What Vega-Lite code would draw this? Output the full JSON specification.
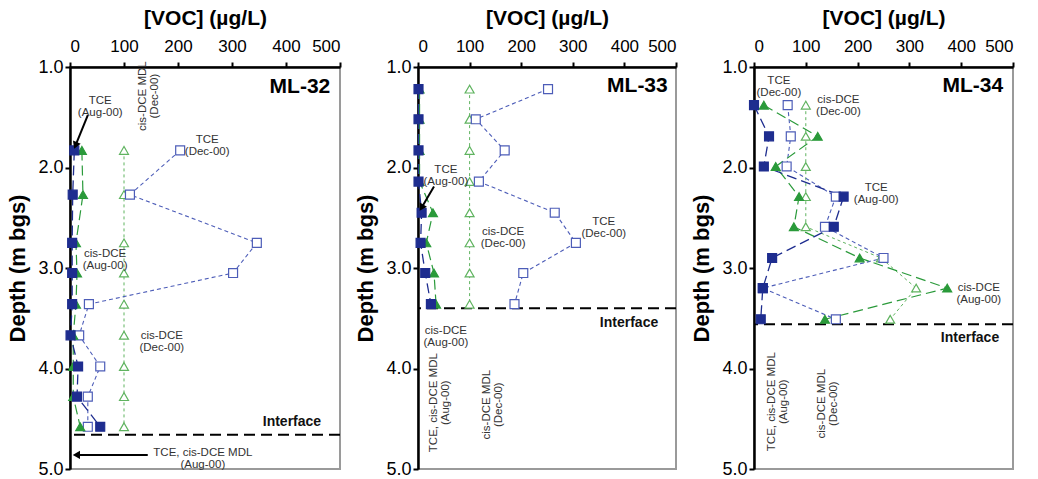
{
  "$schema": "https://vega.github.io/schema/vega-lite/v6.json",
  "background": "white",
  "padding": {"left": 5, "top": 6, "right": 5, "bottom": 0},
  "bounds": "flush",
  "spacing": 78,
  "datasets": {
    "profiles": [
      {"well":"ML-32","series":"cis-DCE (Dec-00)","depth":1.83,"voc":100},
      {"well":"ML-32","series":"cis-DCE (Dec-00)","depth":2.27,"voc":100},
      {"well":"ML-32","series":"cis-DCE (Dec-00)","depth":2.75,"voc":100},
      {"well":"ML-32","series":"cis-DCE (Dec-00)","depth":3.05,"voc":100},
      {"well":"ML-32","series":"cis-DCE (Dec-00)","depth":3.36,"voc":100},
      {"well":"ML-32","series":"cis-DCE (Dec-00)","depth":3.67,"voc":100},
      {"well":"ML-32","series":"cis-DCE (Dec-00)","depth":3.98,"voc":100},
      {"well":"ML-32","series":"cis-DCE (Dec-00)","depth":4.28,"voc":100},
      {"well":"ML-32","series":"cis-DCE (Dec-00)","depth":4.58,"voc":100},
      {"well":"ML-32","series":"TCE (Dec-00)","depth":1.83,"voc":204},
      {"well":"ML-32","series":"TCE (Dec-00)","depth":2.27,"voc":111},
      {"well":"ML-32","series":"TCE (Dec-00)","depth":2.75,"voc":346},
      {"well":"ML-32","series":"TCE (Dec-00)","depth":3.05,"voc":302},
      {"well":"ML-32","series":"TCE (Dec-00)","depth":3.36,"voc":35},
      {"well":"ML-32","series":"TCE (Dec-00)","depth":3.67,"voc":17},
      {"well":"ML-32","series":"TCE (Dec-00)","depth":3.98,"voc":56},
      {"well":"ML-32","series":"TCE (Dec-00)","depth":4.28,"voc":33},
      {"well":"ML-32","series":"TCE (Dec-00)","depth":4.58,"voc":33},
      {"well":"ML-32","series":"cis-DCE (Aug-00)","depth":1.83,"voc":22},
      {"well":"ML-32","series":"cis-DCE (Aug-00)","depth":2.27,"voc":24},
      {"well":"ML-32","series":"cis-DCE (Aug-00)","depth":2.75,"voc":11},
      {"well":"ML-32","series":"cis-DCE (Aug-00)","depth":3.05,"voc":13},
      {"well":"ML-32","series":"cis-DCE (Aug-00)","depth":3.36,"voc":11},
      {"well":"ML-32","series":"cis-DCE (Aug-00)","depth":3.67,"voc":6},
      {"well":"ML-32","series":"cis-DCE (Aug-00)","depth":3.98,"voc":6},
      {"well":"ML-32","series":"cis-DCE (Aug-00)","depth":4.28,"voc":6},
      {"well":"ML-32","series":"cis-DCE (Aug-00)","depth":4.58,"voc":19},
      {"well":"ML-32","series":"TCE (Aug-00)","depth":1.83,"voc":8},
      {"well":"ML-32","series":"TCE (Aug-00)","depth":2.27,"voc":5},
      {"well":"ML-32","series":"TCE (Aug-00)","depth":2.75,"voc":4},
      {"well":"ML-32","series":"TCE (Aug-00)","depth":3.05,"voc":4},
      {"well":"ML-32","series":"TCE (Aug-00)","depth":3.36,"voc":4},
      {"well":"ML-32","series":"TCE (Aug-00)","depth":3.67,"voc":1},
      {"well":"ML-32","series":"TCE (Aug-00)","depth":3.98,"voc":15},
      {"well":"ML-32","series":"TCE (Aug-00)","depth":4.28,"voc":13},
      {"well":"ML-32","series":"TCE (Aug-00)","depth":4.58,"voc":56},

      {"well":"ML-33","series":"cis-DCE (Dec-00)","depth":1.22,"voc":100},
      {"well":"ML-33","series":"cis-DCE (Dec-00)","depth":1.52,"voc":100},
      {"well":"ML-33","series":"cis-DCE (Dec-00)","depth":1.83,"voc":100},
      {"well":"ML-33","series":"cis-DCE (Dec-00)","depth":2.14,"voc":100},
      {"well":"ML-33","series":"cis-DCE (Dec-00)","depth":2.45,"voc":100},
      {"well":"ML-33","series":"cis-DCE (Dec-00)","depth":2.75,"voc":100},
      {"well":"ML-33","series":"cis-DCE (Dec-00)","depth":3.05,"voc":100},
      {"well":"ML-33","series":"cis-DCE (Dec-00)","depth":3.36,"voc":100},
      {"well":"ML-33","series":"TCE (Dec-00)","depth":1.22,"voc":252},
      {"well":"ML-33","series":"TCE (Dec-00)","depth":1.52,"voc":112},
      {"well":"ML-33","series":"TCE (Dec-00)","depth":1.83,"voc":168},
      {"well":"ML-33","series":"TCE (Dec-00)","depth":2.14,"voc":118},
      {"well":"ML-33","series":"TCE (Dec-00)","depth":2.45,"voc":265},
      {"well":"ML-33","series":"TCE (Dec-00)","depth":2.75,"voc":306},
      {"well":"ML-33","series":"TCE (Dec-00)","depth":3.05,"voc":204},
      {"well":"ML-33","series":"TCE (Dec-00)","depth":3.36,"voc":187},
      {"well":"ML-33","series":"cis-DCE (Aug-00)","depth":1.22,"voc":3},
      {"well":"ML-33","series":"cis-DCE (Aug-00)","depth":1.52,"voc":3},
      {"well":"ML-33","series":"cis-DCE (Aug-00)","depth":1.83,"voc":3},
      {"well":"ML-33","series":"cis-DCE (Aug-00)","depth":2.14,"voc":3},
      {"well":"ML-33","series":"cis-DCE (Aug-00)","depth":2.45,"voc":29},
      {"well":"ML-33","series":"cis-DCE (Aug-00)","depth":2.75,"voc":16},
      {"well":"ML-33","series":"cis-DCE (Aug-00)","depth":3.05,"voc":31},
      {"well":"ML-33","series":"cis-DCE (Aug-00)","depth":3.36,"voc":35},
      {"well":"ML-33","series":"TCE (Aug-00)","depth":1.22,"voc":1},
      {"well":"ML-33","series":"TCE (Aug-00)","depth":1.52,"voc":1},
      {"well":"ML-33","series":"TCE (Aug-00)","depth":1.83,"voc":1},
      {"well":"ML-33","series":"TCE (Aug-00)","depth":2.14,"voc":1},
      {"well":"ML-33","series":"TCE (Aug-00)","depth":2.45,"voc":7},
      {"well":"ML-33","series":"TCE (Aug-00)","depth":2.75,"voc":5},
      {"well":"ML-33","series":"TCE (Aug-00)","depth":3.05,"voc":14},
      {"well":"ML-33","series":"TCE (Aug-00)","depth":3.36,"voc":25},

      {"well":"ML-34","series":"cis-DCE (Dec-00)","depth":1.38,"voc":100},
      {"well":"ML-34","series":"cis-DCE (Dec-00)","depth":1.69,"voc":100},
      {"well":"ML-34","series":"cis-DCE (Dec-00)","depth":1.99,"voc":100},
      {"well":"ML-34","series":"cis-DCE (Dec-00)","depth":2.29,"voc":100},
      {"well":"ML-34","series":"cis-DCE (Dec-00)","depth":2.59,"voc":100},
      {"well":"ML-34","series":"cis-DCE (Dec-00)","depth":2.90,"voc":245},
      {"well":"ML-34","series":"cis-DCE (Dec-00)","depth":3.20,"voc":313},
      {"well":"ML-34","series":"cis-DCE (Dec-00)","depth":3.51,"voc":263},
      {"well":"ML-34","series":"TCE (Dec-00)","depth":1.38,"voc":65},
      {"well":"ML-34","series":"TCE (Dec-00)","depth":1.69,"voc":71},
      {"well":"ML-34","series":"TCE (Dec-00)","depth":1.99,"voc":63},
      {"well":"ML-34","series":"TCE (Dec-00)","depth":2.29,"voc":158},
      {"well":"ML-34","series":"TCE (Dec-00)","depth":2.59,"voc":137},
      {"well":"ML-34","series":"TCE (Dec-00)","depth":2.90,"voc":250},
      {"well":"ML-34","series":"TCE (Dec-00)","depth":3.20,"voc":17},
      {"well":"ML-34","series":"TCE (Dec-00)","depth":3.51,"voc":158},
      {"well":"ML-34","series":"cis-DCE (Aug-00)","depth":1.38,"voc":19},
      {"well":"ML-34","series":"cis-DCE (Aug-00)","depth":1.69,"voc":123},
      {"well":"ML-34","series":"cis-DCE (Aug-00)","depth":1.99,"voc":42},
      {"well":"ML-34","series":"cis-DCE (Aug-00)","depth":2.29,"voc":87},
      {"well":"ML-34","series":"cis-DCE (Aug-00)","depth":2.59,"voc":77},
      {"well":"ML-34","series":"cis-DCE (Aug-00)","depth":2.90,"voc":204},
      {"well":"ML-34","series":"cis-DCE (Aug-00)","depth":3.20,"voc":373},
      {"well":"ML-34","series":"cis-DCE (Aug-00)","depth":3.51,"voc":137},
      {"well":"ML-34","series":"TCE (Aug-00)","depth":1.38,"voc":0},
      {"well":"ML-34","series":"TCE (Aug-00)","depth":1.69,"voc":29},
      {"well":"ML-34","series":"TCE (Aug-00)","depth":1.99,"voc":19},
      {"well":"ML-34","series":"TCE (Aug-00)","depth":2.29,"voc":173},
      {"well":"ML-34","series":"TCE (Aug-00)","depth":2.59,"voc":154},
      {"well":"ML-34","series":"TCE (Aug-00)","depth":2.90,"voc":35},
      {"well":"ML-34","series":"TCE (Aug-00)","depth":3.20,"voc":17},
      {"well":"ML-34","series":"TCE (Aug-00)","depth":3.51,"voc":13}
    ],
    "wells": [
      {"well":"ML-32","depth":4.66},
      {"well":"ML-33","depth":3.40},
      {"well":"ML-34","depth":3.56}
    ],
    "notes": [
      {"well":"ML-32","kind":"head","label":"ML-32","voc":482,"depth":1.2},
      {"well":"ML-32","kind":"note","label":"TCE\n(Aug-00)","voc":56,"depth":1.34},
      {"well":"ML-32","kind":"note","label":"TCE\n(Dec-00)","voc":254,"depth":1.73},
      {"well":"ML-32","kind":"note","label":"cis-DCE\n(Aug-00)","voc":65,"depth":2.86},
      {"well":"ML-32","kind":"note","label":"cis-DCE\n(Dec-00)","voc":170,"depth":3.68},
      {"well":"ML-32","kind":"note","label":"TCE, cis-DCE MDL\n(Aug-00)","voc":246,"depth":4.84},
      {"well":"ML-32","kind":"iface","label":"Interface","voc":411,"depth":4.53},
      {"well":"ML-32","kind":"vnote","label":"cis-DCE MDL\n(Dec-00)","voc":135,"depth":1.29},

      {"well":"ML-33","kind":"head","label":"ML-33","voc":484,"depth":1.19},
      {"well":"ML-33","kind":"note","label":"TCE\n(Aug-00)","voc":54,"depth":2.02},
      {"well":"ML-33","kind":"note","label":"cis-DCE\n(Dec-00)","voc":165,"depth":2.64},
      {"well":"ML-33","kind":"note","label":"TCE\n(Dec-00)","voc":360,"depth":2.54},
      {"well":"ML-33","kind":"note","label":"cis-DCE\n(Aug-00)","voc":54,"depth":3.63},
      {"well":"ML-33","kind":"iface","label":"Interface","voc":409,"depth":3.55},
      {"well":"ML-33","kind":"vnote","label":"TCE, cis-DCE MDL\n(Aug-00)","voc":31,"depth":4.34},
      {"well":"ML-33","kind":"vnote","label":"cis-DCE MDL\n(Dec-00)","voc":134,"depth":4.36},

      {"well":"ML-34","kind":"head","label":"ML-34","voc":481,"depth":1.19},
      {"well":"ML-34","kind":"note","label":"TCE\n(Dec-00)","voc":48,"depth":1.14},
      {"well":"ML-34","kind":"note","label":"cis-DCE\n(Dec-00)","voc":163,"depth":1.33},
      {"well":"ML-34","kind":"note","label":"TCE\n(Aug-00)","voc":236,"depth":2.20},
      {"well":"ML-34","kind":"note","label":"cis-DCE\n(Aug-00)","voc":434,"depth":3.20},
      {"well":"ML-34","kind":"iface","label":"Interface","voc":417,"depth":3.70},
      {"well":"ML-34","kind":"vnote","label":"TCE, cis-DCE MDL\n(Aug-00)","voc":35,"depth":4.33},
      {"well":"ML-34","kind":"vnote","label":"cis-DCE MDL\n(Dec-00)","voc":132,"depth":4.35}
    ],
    "arrows": [
      {"well":"ML-32","target":"TCE (Aug-00)","voc":33,"depth":1.48,"voc2":11,"depth2":1.77},
      {"well":"ML-32","target":"MDL (Aug-00)","voc":144,"depth":4.86,"voc2":14,"depth2":4.86},
      {"well":"ML-33","target":"TCE (Aug-00)","voc":31,"depth":2.19,"voc2":8,"depth2":2.39}
    ]
  },
  "hconcat": [
    {
      "width": 270, "height": 402,
      "layer": [
        {"mark":{"type":"rule","color":"#000","strokeDash":[1.5,2.5],"strokeWidth":1.3},
         "encoding":{"x":{"datum":100,"type":"quantitative","scale":{"domain":[0,500],"nice":false},"axis":{"orient":"top","values":[0,100,200,300,400,500],"title":"[VOC] (µg/L)"}}}},
        {"data":{"name":"wells"},"transform":[{"filter":"datum.well==='ML-32'"}],
         "mark":{"type":"rule","color":"#000","strokeDash":[11,6],"strokeWidth":2},
         "encoding":{"y":{"field":"depth","type":"quantitative","scale":{"domain":[1,5],"reverse":true,"nice":false,"zero":false},"axis":{"values":[1,2,3,4,5],"format":".1f","title":"Depth (m bgs)"}}}},
        {"data":{"name":"profiles"},"transform":[{"filter":"datum.well==='ML-32'"}],
         "mark":{"type":"line"},
         "encoding":{
           "x":{"field":"voc","type":"quantitative","scale":{"domain":[0,500],"nice":false},"axis":{"orient":"top","values":[0,100,200,300,400,500],"title":"[VOC] (µg/L)"}},
           "y":{"field":"depth","type":"quantitative","scale":{"domain":[1,5],"reverse":true,"nice":false,"zero":false},"axis":{"values":[1,2,3,4,5],"format":".1f","title":"Depth (m bgs)"}},
           "order":{"field":"depth","type":"quantitative"},
           "color":{"field":"series","type":"nominal","scale":{"domain":["cis-DCE (Dec-00)","TCE (Dec-00)","cis-DCE (Aug-00)","TCE (Aug-00)"],"range":["#5fb35f","#4d5db8","#2a9a3a","#1e2d8f"]},"legend":null},
           "strokeDash":{"field":"series","type":"nominal","scale":{"domain":["cis-DCE (Dec-00)","TCE (Dec-00)","cis-DCE (Aug-00)","TCE (Aug-00)"],"range":[[3,3],[4,3],[10,5],[10,5]]},"legend":null},
           "strokeWidth":{"field":"series","type":"nominal","scale":{"domain":["cis-DCE (Dec-00)","TCE (Dec-00)","cis-DCE (Aug-00)","TCE (Aug-00)"],"range":[1,1.3,2.5,2.5]},"legend":null}
         }},
        {"data":{"name":"profiles"},"transform":[{"filter":"datum.well==='ML-32'"}],
         "mark":{"type":"point","filled":true,"opacity":1,"size":80,"strokeWidth":1.2},
         "encoding":{
           "x":{"field":"voc","type":"quantitative","scale":{"domain":[0,500],"nice":false},"axis":{"orient":"top","values":[0,100,200,300,400,500],"title":"[VOC] (µg/L)"}},
           "y":{"field":"depth","type":"quantitative","scale":{"domain":[1,5],"reverse":true,"nice":false,"zero":false},"axis":{"values":[1,2,3,4,5],"format":".1f","title":"Depth (m bgs)"}},
           "shape":{"field":"series","type":"nominal","scale":{"domain":["cis-DCE (Dec-00)","TCE (Dec-00)","cis-DCE (Aug-00)","TCE (Aug-00)"],"range":["triangle-up","square","triangle-up","square"]},"legend":null},
           "fill":{"field":"series","type":"nominal","scale":{"domain":["cis-DCE (Dec-00)","TCE (Dec-00)","cis-DCE (Aug-00)","TCE (Aug-00)"],"range":["#ffffff","#ffffff","#2a9a3a","#1e2d8f"]},"legend":null},
           "stroke":{"field":"series","type":"nominal","scale":{"domain":["cis-DCE (Dec-00)","TCE (Dec-00)","cis-DCE (Aug-00)","TCE (Aug-00)"],"range":["#5fb35f","#4d5db8","#2a9a3a","#1e2d8f"]},"legend":null}
         }},
        {"data":{"name":"arrows"},"transform":[{"filter":"datum.well==='ML-32'"}],
         "mark":{"type":"rule","color":"#000","strokeWidth":2},
         "encoding":{
           "x":{"field":"voc","type":"quantitative","scale":{"domain":[0,500],"nice":false},"axis":{"orient":"top","values":[0,100,200,300,400,500],"title":"[VOC] (µg/L)"}},
           "y":{"field":"depth","type":"quantitative","scale":{"domain":[1,5],"reverse":true,"nice":false,"zero":false},"axis":{"values":[1,2,3,4,5],"format":".1f","title":"Depth (m bgs)"}},
           "x2":{"field":"voc2"},"y2":{"field":"depth2"}}},
        {"data":{"name":"arrows"},"transform":[{"filter":"datum.well==='ML-32' && datum.target==='TCE (Aug-00)'"}],
         "mark":{"type":"point","shape":"triangle","filled":true,"opacity":1,"color":"#000","size":70,"angle":202},
         "encoding":{
           "x":{"field":"voc2","type":"quantitative","scale":{"domain":[0,500],"nice":false},"axis":{"orient":"top","values":[0,100,200,300,400,500],"title":"[VOC] (µg/L)"}},
           "y":{"field":"depth2","type":"quantitative","scale":{"domain":[1,5],"reverse":true,"nice":false,"zero":false},"axis":{"values":[1,2,3,4,5],"format":".1f","title":"Depth (m bgs)"}}}},
        {"data":{"name":"arrows"},"transform":[{"filter":"datum.well==='ML-32' && datum.target==='MDL (Aug-00)'"}],
         "mark":{"type":"point","shape":"triangle","filled":true,"opacity":1,"color":"#000","size":70,"angle":270},
         "encoding":{
           "x":{"field":"voc2","type":"quantitative","scale":{"domain":[0,500],"nice":false},"axis":{"orient":"top","values":[0,100,200,300,400,500],"title":"[VOC] (µg/L)"}},
           "y":{"field":"depth2","type":"quantitative","scale":{"domain":[1,5],"reverse":true,"nice":false,"zero":false},"axis":{"values":[1,2,3,4,5],"format":".1f","title":"Depth (m bgs)"}}}},
        {"data":{"name":"notes"},"transform":[{"filter":"datum.well==='ML-32' && datum.kind==='note'"}],
         "mark":{"type":"text","fontSize":11.5,"color":"#333","lineBreak":"\n","align":"center","baseline":"middle","lineHeight":12},
         "encoding":{
           "x":{"field":"voc","type":"quantitative","scale":{"domain":[0,500],"nice":false},"axis":{"orient":"top","values":[0,100,200,300,400,500],"title":"[VOC] (µg/L)"}},
           "y":{"field":"depth","type":"quantitative","scale":{"domain":[1,5],"reverse":true,"nice":false,"zero":false},"axis":{"values":[1,2,3,4,5],"format":".1f","title":"Depth (m bgs)"}},
           "text":{"field":"label"}}},
        {"data":{"name":"notes"},"transform":[{"filter":"datum.well==='ML-32' && datum.kind==='vnote'"}],
         "mark":{"type":"text","fontSize":11.5,"color":"#333","lineBreak":"\n","align":"center","baseline":"middle","lineHeight":12,"angle":270},
         "encoding":{
           "x":{"field":"voc","type":"quantitative","scale":{"domain":[0,500],"nice":false},"axis":{"orient":"top","values":[0,100,200,300,400,500],"title":"[VOC] (µg/L)"}},
           "y":{"field":"depth","type":"quantitative","scale":{"domain":[1,5],"reverse":true,"nice":false,"zero":false},"axis":{"values":[1,2,3,4,5],"format":".1f","title":"Depth (m bgs)"}},
           "text":{"field":"label"}}},
        {"data":{"name":"notes"},"transform":[{"filter":"datum.well==='ML-32' && datum.kind==='iface'"}],
         "mark":{"type":"text","fontSize":14,"fontWeight":"bold","color":"#111","align":"center","baseline":"middle"},
         "encoding":{
           "x":{"field":"voc","type":"quantitative","scale":{"domain":[0,500],"nice":false},"axis":{"orient":"top","values":[0,100,200,300,400,500],"title":"[VOC] (µg/L)"}},
           "y":{"field":"depth","type":"quantitative","scale":{"domain":[1,5],"reverse":true,"nice":false,"zero":false},"axis":{"values":[1,2,3,4,5],"format":".1f","title":"Depth (m bgs)"}},
           "text":{"field":"label"}}},
        {"data":{"name":"notes"},"transform":[{"filter":"datum.well==='ML-32' && datum.kind==='head'"}],
         "mark":{"type":"text","fontSize":21,"fontWeight":"bold","color":"#000","align":"right","baseline":"middle"},
         "encoding":{
           "x":{"field":"voc","type":"quantitative","scale":{"domain":[0,500],"nice":false},"axis":{"orient":"top","values":[0,100,200,300,400,500],"title":"[VOC] (µg/L)"}},
           "y":{"field":"depth","type":"quantitative","scale":{"domain":[1,5],"reverse":true,"nice":false,"zero":false},"axis":{"values":[1,2,3,4,5],"format":".1f","title":"Depth (m bgs)"}},
           "text":{"field":"label"}}}
      ]
    },
    {
      "width": 258, "height": 402,
      "layer": [
        {"mark":{"type":"rule","color":"#000","strokeDash":[1.5,2.5],"strokeWidth":1.3},
         "encoding":{"x":{"datum":100,"type":"quantitative","scale":{"domain":[0,500],"nice":false},"axis":{"orient":"top","values":[0,100,200,300,400,500],"title":"[VOC] (µg/L)"}}}},
        {"data":{"name":"wells"},"transform":[{"filter":"datum.well==='ML-33'"}],
         "mark":{"type":"rule","color":"#000","strokeDash":[11,6],"strokeWidth":2},
         "encoding":{"y":{"field":"depth","type":"quantitative","scale":{"domain":[1,5],"reverse":true,"nice":false,"zero":false},"axis":{"values":[1,2,3,4,5],"format":".1f","title":"Depth (m bgs)"}}}},
        {"data":{"name":"profiles"},"transform":[{"filter":"datum.well==='ML-33'"}],
         "mark":{"type":"line"},
         "encoding":{
           "x":{"field":"voc","type":"quantitative","scale":{"domain":[0,500],"nice":false},"axis":{"orient":"top","values":[0,100,200,300,400,500],"title":"[VOC] (µg/L)"}},
           "y":{"field":"depth","type":"quantitative","scale":{"domain":[1,5],"reverse":true,"nice":false,"zero":false},"axis":{"values":[1,2,3,4,5],"format":".1f","title":"Depth (m bgs)"}},
           "order":{"field":"depth","type":"quantitative"},
           "color":{"field":"series","type":"nominal","scale":{"domain":["cis-DCE (Dec-00)","TCE (Dec-00)","cis-DCE (Aug-00)","TCE (Aug-00)"],"range":["#5fb35f","#4d5db8","#2a9a3a","#1e2d8f"]},"legend":null},
           "strokeDash":{"field":"series","type":"nominal","scale":{"domain":["cis-DCE (Dec-00)","TCE (Dec-00)","cis-DCE (Aug-00)","TCE (Aug-00)"],"range":[[3,3],[4,3],[10,5],[10,5]]},"legend":null},
           "strokeWidth":{"field":"series","type":"nominal","scale":{"domain":["cis-DCE (Dec-00)","TCE (Dec-00)","cis-DCE (Aug-00)","TCE (Aug-00)"],"range":[1,1.3,2.5,2.5]},"legend":null}
         }},
        {"data":{"name":"profiles"},"transform":[{"filter":"datum.well==='ML-33'"}],
         "mark":{"type":"point","filled":true,"opacity":1,"size":80,"strokeWidth":1.2},
         "encoding":{
           "x":{"field":"voc","type":"quantitative","scale":{"domain":[0,500],"nice":false},"axis":{"orient":"top","values":[0,100,200,300,400,500],"title":"[VOC] (µg/L)"}},
           "y":{"field":"depth","type":"quantitative","scale":{"domain":[1,5],"reverse":true,"nice":false,"zero":false},"axis":{"values":[1,2,3,4,5],"format":".1f","title":"Depth (m bgs)"}},
           "shape":{"field":"series","type":"nominal","scale":{"domain":["cis-DCE (Dec-00)","TCE (Dec-00)","cis-DCE (Aug-00)","TCE (Aug-00)"],"range":["triangle-up","square","triangle-up","square"]},"legend":null},
           "fill":{"field":"series","type":"nominal","scale":{"domain":["cis-DCE (Dec-00)","TCE (Dec-00)","cis-DCE (Aug-00)","TCE (Aug-00)"],"range":["#ffffff","#ffffff","#2a9a3a","#1e2d8f"]},"legend":null},
           "stroke":{"field":"series","type":"nominal","scale":{"domain":["cis-DCE (Dec-00)","TCE (Dec-00)","cis-DCE (Aug-00)","TCE (Aug-00)"],"range":["#5fb35f","#4d5db8","#2a9a3a","#1e2d8f"]},"legend":null}
         }},
        {"data":{"name":"arrows"},"transform":[{"filter":"datum.well==='ML-33'"}],
         "mark":{"type":"rule","color":"#000","strokeWidth":2},
         "encoding":{
           "x":{"field":"voc","type":"quantitative","scale":{"domain":[0,500],"nice":false},"axis":{"orient":"top","values":[0,100,200,300,400,500],"title":"[VOC] (µg/L)"}},
           "y":{"field":"depth","type":"quantitative","scale":{"domain":[1,5],"reverse":true,"nice":false,"zero":false},"axis":{"values":[1,2,3,4,5],"format":".1f","title":"Depth (m bgs)"}},
           "x2":{"field":"voc2"},"y2":{"field":"depth2"}}},
        {"data":{"name":"arrows"},"transform":[{"filter":"datum.well==='ML-33'"}],
         "mark":{"type":"point","shape":"triangle","filled":true,"opacity":1,"color":"#000","size":70,"angle":211},
         "encoding":{
           "x":{"field":"voc2","type":"quantitative","scale":{"domain":[0,500],"nice":false},"axis":{"orient":"top","values":[0,100,200,300,400,500],"title":"[VOC] (µg/L)"}},
           "y":{"field":"depth2","type":"quantitative","scale":{"domain":[1,5],"reverse":true,"nice":false,"zero":false},"axis":{"values":[1,2,3,4,5],"format":".1f","title":"Depth (m bgs)"}}}},
        {"data":{"name":"notes"},"transform":[{"filter":"datum.well==='ML-33' && datum.kind==='note'"}],
         "mark":{"type":"text","fontSize":11.5,"color":"#333","lineBreak":"\n","align":"center","baseline":"middle","lineHeight":12},
         "encoding":{
           "x":{"field":"voc","type":"quantitative","scale":{"domain":[0,500],"nice":false},"axis":{"orient":"top","values":[0,100,200,300,400,500],"title":"[VOC] (µg/L)"}},
           "y":{"field":"depth","type":"quantitative","scale":{"domain":[1,5],"reverse":true,"nice":false,"zero":false},"axis":{"values":[1,2,3,4,5],"format":".1f","title":"Depth (m bgs)"}},
           "text":{"field":"label"}}},
        {"data":{"name":"notes"},"transform":[{"filter":"datum.well==='ML-33' && datum.kind==='vnote'"}],
         "mark":{"type":"text","fontSize":11.5,"color":"#333","lineBreak":"\n","align":"center","baseline":"middle","lineHeight":12,"angle":270},
         "encoding":{
           "x":{"field":"voc","type":"quantitative","scale":{"domain":[0,500],"nice":false},"axis":{"orient":"top","values":[0,100,200,300,400,500],"title":"[VOC] (µg/L)"}},
           "y":{"field":"depth","type":"quantitative","scale":{"domain":[1,5],"reverse":true,"nice":false,"zero":false},"axis":{"values":[1,2,3,4,5],"format":".1f","title":"Depth (m bgs)"}},
           "text":{"field":"label"}}},
        {"data":{"name":"notes"},"transform":[{"filter":"datum.well==='ML-33' && datum.kind==='iface'"}],
         "mark":{"type":"text","fontSize":14,"fontWeight":"bold","color":"#111","align":"center","baseline":"middle"},
         "encoding":{
           "x":{"field":"voc","type":"quantitative","scale":{"domain":[0,500],"nice":false},"axis":{"orient":"top","values":[0,100,200,300,400,500],"title":"[VOC] (µg/L)"}},
           "y":{"field":"depth","type":"quantitative","scale":{"domain":[1,5],"reverse":true,"nice":false,"zero":false},"axis":{"values":[1,2,3,4,5],"format":".1f","title":"Depth (m bgs)"}},
           "text":{"field":"label"}}},
        {"data":{"name":"notes"},"transform":[{"filter":"datum.well==='ML-33' && datum.kind==='head'"}],
         "mark":{"type":"text","fontSize":21,"fontWeight":"bold","color":"#000","align":"right","baseline":"middle"},
         "encoding":{
           "x":{"field":"voc","type":"quantitative","scale":{"domain":[0,500],"nice":false},"axis":{"orient":"top","values":[0,100,200,300,400,500],"title":"[VOC] (µg/L)"}},
           "y":{"field":"depth","type":"quantitative","scale":{"domain":[1,5],"reverse":true,"nice":false,"zero":false},"axis":{"values":[1,2,3,4,5],"format":".1f","title":"Depth (m bgs)"}},
           "text":{"field":"label"}}}
      ]
    },
    {
      "width": 259, "height": 402,
      "layer": [
        {"mark":{"type":"rule","color":"#000","strokeDash":[1.5,2.5],"strokeWidth":1.3},
         "encoding":{"x":{"datum":100,"type":"quantitative","scale":{"domain":[0,500],"nice":false},"axis":{"orient":"top","values":[0,100,200,300,400,500],"title":"[VOC] (µg/L)"}}}},
        {"data":{"name":"wells"},"transform":[{"filter":"datum.well==='ML-34'"}],
         "mark":{"type":"rule","color":"#000","strokeDash":[11,6],"strokeWidth":2},
         "encoding":{"y":{"field":"depth","type":"quantitative","scale":{"domain":[1,5],"reverse":true,"nice":false,"zero":false},"axis":{"values":[1,2,3,4,5],"format":".1f","title":"Depth (m bgs)"}}}},
        {"data":{"name":"profiles"},"transform":[{"filter":"datum.well==='ML-34'"}],
         "mark":{"type":"line"},
         "encoding":{
           "x":{"field":"voc","type":"quantitative","scale":{"domain":[0,500],"nice":false},"axis":{"orient":"top","values":[0,100,200,300,400,500],"title":"[VOC] (µg/L)"}},
           "y":{"field":"depth","type":"quantitative","scale":{"domain":[1,5],"reverse":true,"nice":false,"zero":false},"axis":{"values":[1,2,3,4,5],"format":".1f","title":"Depth (m bgs)"}},
           "order":{"field":"depth","type":"quantitative"},
           "color":{"field":"series","type":"nominal","scale":{"domain":["cis-DCE (Dec-00)","TCE (Dec-00)","cis-DCE (Aug-00)","TCE (Aug-00)"],"range":["#5fb35f","#4d5db8","#2a9a3a","#1e2d8f"]},"legend":null},
           "strokeDash":{"field":"series","type":"nominal","scale":{"domain":["cis-DCE (Dec-00)","TCE (Dec-00)","cis-DCE (Aug-00)","TCE (Aug-00)"],"range":[[3,3],[4,3],[10,5],[10,5]]},"legend":null},
           "strokeWidth":{"field":"series","type":"nominal","scale":{"domain":["cis-DCE (Dec-00)","TCE (Dec-00)","cis-DCE (Aug-00)","TCE (Aug-00)"],"range":[1,1.3,2.5,2.5]},"legend":null}
         }},
        {"data":{"name":"profiles"},"transform":[{"filter":"datum.well==='ML-34'"}],
         "mark":{"type":"point","filled":true,"opacity":1,"size":80,"strokeWidth":1.2},
         "encoding":{
           "x":{"field":"voc","type":"quantitative","scale":{"domain":[0,500],"nice":false},"axis":{"orient":"top","values":[0,100,200,300,400,500],"title":"[VOC] (µg/L)"}},
           "y":{"field":"depth","type":"quantitative","scale":{"domain":[1,5],"reverse":true,"nice":false,"zero":false},"axis":{"values":[1,2,3,4,5],"format":".1f","title":"Depth (m bgs)"}},
           "shape":{"field":"series","type":"nominal","scale":{"domain":["cis-DCE (Dec-00)","TCE (Dec-00)","cis-DCE (Aug-00)","TCE (Aug-00)"],"range":["triangle-up","square","triangle-up","square"]},"legend":null},
           "fill":{"field":"series","type":"nominal","scale":{"domain":["cis-DCE (Dec-00)","TCE (Dec-00)","cis-DCE (Aug-00)","TCE (Aug-00)"],"range":["#ffffff","#ffffff","#2a9a3a","#1e2d8f"]},"legend":null},
           "stroke":{"field":"series","type":"nominal","scale":{"domain":["cis-DCE (Dec-00)","TCE (Dec-00)","cis-DCE (Aug-00)","TCE (Aug-00)"],"range":["#5fb35f","#4d5db8","#2a9a3a","#1e2d8f"]},"legend":null}
         }},
        {"data":{"name":"notes"},"transform":[{"filter":"datum.well==='ML-34' && datum.kind==='note'"}],
         "mark":{"type":"text","fontSize":11.5,"color":"#333","lineBreak":"\n","align":"center","baseline":"middle","lineHeight":12},
         "encoding":{
           "x":{"field":"voc","type":"quantitative","scale":{"domain":[0,500],"nice":false},"axis":{"orient":"top","values":[0,100,200,300,400,500],"title":"[VOC] (µg/L)"}},
           "y":{"field":"depth","type":"quantitative","scale":{"domain":[1,5],"reverse":true,"nice":false,"zero":false},"axis":{"values":[1,2,3,4,5],"format":".1f","title":"Depth (m bgs)"}},
           "text":{"field":"label"}}},
        {"data":{"name":"notes"},"transform":[{"filter":"datum.well==='ML-34' && datum.kind==='vnote'"}],
         "mark":{"type":"text","fontSize":11.5,"color":"#333","lineBreak":"\n","align":"center","baseline":"middle","lineHeight":12,"angle":270},
         "encoding":{
           "x":{"field":"voc","type":"quantitative","scale":{"domain":[0,500],"nice":false},"axis":{"orient":"top","values":[0,100,200,300,400,500],"title":"[VOC] (µg/L)"}},
           "y":{"field":"depth","type":"quantitative","scale":{"domain":[1,5],"reverse":true,"nice":false,"zero":false},"axis":{"values":[1,2,3,4,5],"format":".1f","title":"Depth (m bgs)"}},
           "text":{"field":"label"}}},
        {"data":{"name":"notes"},"transform":[{"filter":"datum.well==='ML-34' && datum.kind==='iface'"}],
         "mark":{"type":"text","fontSize":14,"fontWeight":"bold","color":"#111","align":"center","baseline":"middle"},
         "encoding":{
           "x":{"field":"voc","type":"quantitative","scale":{"domain":[0,500],"nice":false},"axis":{"orient":"top","values":[0,100,200,300,400,500],"title":"[VOC] (µg/L)"}},
           "y":{"field":"depth","type":"quantitative","scale":{"domain":[1,5],"reverse":true,"nice":false,"zero":false},"axis":{"values":[1,2,3,4,5],"format":".1f","title":"Depth (m bgs)"}},
           "text":{"field":"label"}}},
        {"data":{"name":"notes"},"transform":[{"filter":"datum.well==='ML-34' && datum.kind==='head'"}],
         "mark":{"type":"text","fontSize":21,"fontWeight":"bold","color":"#000","align":"right","baseline":"middle"},
         "encoding":{
           "x":{"field":"voc","type":"quantitative","scale":{"domain":[0,500],"nice":false},"axis":{"orient":"top","values":[0,100,200,300,400,500],"title":"[VOC] (µg/L)"}},
           "y":{"field":"depth","type":"quantitative","scale":{"domain":[1,5],"reverse":true,"nice":false,"zero":false},"axis":{"values":[1,2,3,4,5],"format":".1f","title":"Depth (m bgs)"}},
           "text":{"field":"label"}}}
      ]
    }
  ],
  "config": {
    "font": "Liberation Sans",
    "view": {"stroke": "#9a9a9a", "strokeWidth": 2},
    "axis": {"domainColor": "#000", "domainWidth": 2.5, "tickColor": "#000", "tickWidth": 2, "tickSize": 5, "labelFont": "Liberation Sans", "labelFontSize": 17, "labelColor": "#000", "titleFont": "Liberation Sans", "titleFontSize": 20, "titleFontWeight": "bold", "titleColor": "#000", "grid": false},
    "axisX": {"labelPadding": 7, "titlePadding": 9, "titleFontSize": 21},
    "axisY": {"labelFontSize": 18, "labelPadding": 2, "titleFontSize": 22, "titlePadding": 8},
    "text": {"font": "Liberation Sans"}
  }
}
